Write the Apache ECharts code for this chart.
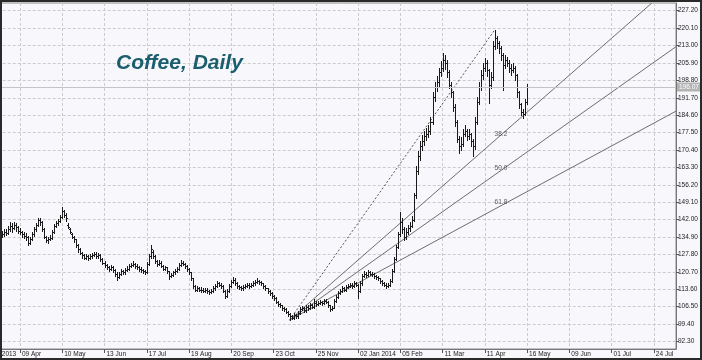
<!DOCTYPE html>
<html><head><meta charset="utf-8">
<script src="https://cdn.jsdelivr.net/npm/echarts@6/dist/echarts.min.js"></script>
<style>html,body{margin:0;padding:0;background:#fff}#c{width:702px;height:360px}</style>
</head><body><div id="c"></div>
<script>
// ---- data ----
const tickLabels = ['06 Mar 2013','09 Apr','10 May','13 Jun','17 Jul','19 Aug','20 Sep','23 Oct','25 Nov','02 Jan 2014','05 Feb','11 Mar','11 Apr','16 May','09 Jun','01 Jul','24 Jul'];
const barsPerLabel = 21;
const slotCount = 348;
const firstBarSlot = 11;
const yTicks = [92.3,99.4,106.5,113.6,120.7,127.8,134.9,142.0,149.1,156.2,163.3,170.4,177.5,184.6,191.7,198.8,205.9,213.0,220.1,227.2];
const yMin = 89.24, yMax = 230.34;
const fibLevels = [38.2, 50.0, 61.8];
const title = 'Coffee, Daily';
// daily bars [open, high, low, close]
const ohlc = [
[137.0,138.0,135.5,136.5],[136.5,137.5,135.0,136.0],[136.0,138.0,135.5,137.0],[137.0,138.0,135.8,136.5],[136.5,139.5,136.0,138.0],
[138.0,141.0,137.5,139.5],[139.5,140.5,137.0,138.5],[138.5,141.2,138.0,140.0],[140.0,140.8,137.5,139.0],[139.0,139.5,136.5,137.5],
[137.5,138.5,136.0,137.0],[137.0,137.5,135.0,136.0],[136.0,137.0,134.5,135.5],[135.5,136.5,133.8,135.0],[135.0,135.3,131.7,132.5],
[132.5,134.8,132.0,134.0],[134.0,136.8,133.5,136.0],[136.0,138.8,135.5,138.0],[138.0,140.8,137.5,140.0],[140.0,142.6,139.5,142.0],
[142.0,142.5,140.0,141.0],[141.0,141.5,137.5,138.0],[138.0,138.5,134.5,135.0],[135.0,135.5,132.8,133.5],[133.5,135.0,132.5,134.0],
[134.0,135.8,133.5,134.5],[134.5,137.8,134.0,137.0],[137.0,140.2,136.5,139.5],[139.5,141.5,139.0,140.5],[140.5,142.2,140.0,141.5],
[141.5,143.8,141.0,143.0],[143.0,147.0,142.5,145.5],[145.5,146.0,143.0,144.0],[144.0,144.5,141.5,142.5],[140.0,140.5,138.5,139.0],
[138.0,138.5,136.5,137.0],[136.0,136.5,134.5,135.0],[135.0,135.5,133.0,134.0],[134.0,134.2,131.0,131.5],[131.5,132.0,129.0,130.0],
[130.0,130.5,127.8,128.5],[128.5,129.0,126.5,127.5],[127.5,128.0,125.8,126.5],[126.5,127.8,126.0,127.0],[127.0,127.5,125.5,126.5],
[126.5,128.0,126.0,127.0],[127.0,128.5,126.5,127.5],[127.5,129.0,127.0,128.0],[128.0,128.6,126.3,127.0],[127.0,128.5,126.5,127.5],
[127.5,128.0,125.2,126.0],[126.0,126.5,123.8,124.5],[124.5,125.0,122.8,123.5],[123.5,124.0,121.8,122.5],[122.5,123.2,121.2,122.0],
[122.0,123.5,121.5,122.5],[122.5,123.0,120.8,121.5],[121.5,122.0,119.2,120.0],[120.0,120.5,117.4,118.5],[118.5,120.8,118.0,120.0],
[120.0,121.8,119.5,121.0],[121.0,121.5,119.8,120.5],[120.5,122.3,120.0,121.5],[121.5,123.0,121.0,122.0],[122.0,123.8,121.5,123.0],
[123.0,124.5,122.5,123.5],[123.5,125.0,123.0,124.0],[124.0,124.5,122.3,123.0],[123.0,123.8,121.8,122.5],[122.5,123.0,121.2,122.0],
[122.0,122.8,120.8,121.5],[121.5,122.0,120.2,121.0],[121.0,121.5,119.8,120.5],[120.5,124.8,120.2,124.0],[124.0,127.8,123.5,127.0],
[127.0,131.6,126.5,130.0],[129.0,129.5,126.5,127.0],[127.0,127.5,124.5,125.0],[125.0,125.5,123.2,124.0],[124.0,125.5,123.5,124.5],
[124.5,125.0,122.5,123.0],[123.0,123.5,121.3,122.0],[122.0,123.2,121.5,122.5],[122.5,122.8,120.3,121.0],[121.0,121.2,117.8,119.0],
[119.0,120.3,118.5,119.5],[119.5,121.2,119.0,120.5],[120.5,122.0,120.0,121.0],[121.0,122.8,120.5,122.0],[122.0,124.3,121.5,123.5],
[123.5,125.5,123.0,124.5],[124.5,125.2,123.3,124.0],[124.0,124.5,122.3,123.0],[123.0,123.5,121.2,122.0],[122.0,122.3,119.8,120.5],
[120.5,120.8,117.2,118.0],[118.0,118.3,114.2,115.0],[115.0,115.5,112.8,113.5],[113.5,114.8,113.0,114.0],[114.0,114.6,112.8,113.5],
[113.5,114.5,112.6,113.5],[113.5,114.0,112.3,113.0],[113.0,114.3,112.5,113.5],[113.5,114.0,112.2,113.0],[113.0,113.5,111.8,112.5],
[112.5,113.8,112.0,113.0],[113.0,114.8,112.5,114.0],[114.0,115.8,113.5,115.0],[115.0,116.8,114.6,116.0],[116.0,116.5,114.8,115.5],
[115.5,116.0,114.3,115.0],[115.0,115.2,112.5,113.0],[113.0,113.3,110.0,111.0],[111.0,113.8,110.5,113.0],[113.0,115.8,112.5,115.0],
[115.0,117.3,114.5,116.5],[116.5,118.5,116.0,117.5],[117.5,118.0,115.3,116.0],[116.0,116.5,114.3,115.0],[115.0,115.5,113.8,114.5],
[114.5,115.0,113.3,114.0],[114.0,115.3,113.5,114.5],[114.5,115.8,114.0,115.0],[115.0,116.3,114.5,115.5],[115.5,116.0,114.3,115.0],
[115.0,116.3,114.5,115.5],[115.5,116.8,115.0,116.0],[116.0,117.3,115.5,116.5],[116.5,118.0,116.0,117.0],[117.0,117.5,115.8,116.5],
[116.5,117.0,115.2,116.0],[116.0,116.3,114.3,115.0],[115.0,115.3,113.2,114.0],[114.0,114.3,112.2,113.0],[113.0,113.3,111.2,112.0],
[112.0,112.3,110.2,111.0],[111.0,111.3,109.2,110.0],[110.0,110.3,107.8,108.5],[108.5,109.0,106.8,107.5],[107.5,108.2,106.2,107.0],
[107.0,107.3,105.2,106.0],[106.0,106.5,104.8,105.5],[105.5,105.8,103.8,104.5],[104.5,104.8,102.8,103.5],[103.5,103.8,101.1,102.5],
[102.5,103.2,101.3,102.0],[102.0,103.8,101.5,103.0],[103.0,103.5,101.8,102.5],[102.5,104.8,102.0,104.0],[104.0,106.2,103.5,105.5],
[105.5,106.8,105.0,106.0],[106.0,106.5,104.3,105.0],[105.0,107.3,104.5,106.5],[106.5,107.0,105.3,106.0],[106.0,107.8,105.5,107.0],
[107.0,107.5,105.8,106.5],[106.5,109.5,106.0,108.0],[108.0,108.8,106.8,107.5],[107.5,108.8,107.0,108.0],[108.0,109.3,107.5,108.5],
[108.5,109.0,107.2,108.0],[108.0,109.8,107.5,109.0],[109.0,109.5,107.8,108.5],[108.5,108.8,106.3,107.0],[107.0,107.3,104.8,105.5],
[105.5,106.8,105.0,106.0],[106.0,109.8,105.8,109.0],[109.0,111.3,108.5,110.5],[110.5,112.8,110.0,112.0],[112.0,113.8,111.5,113.0],
[113.0,114.8,112.5,114.0],[114.0,114.5,112.8,113.5],[113.5,115.3,113.0,114.5],[114.5,115.8,114.0,115.0],[115.0,116.3,114.5,115.5],
[115.5,116.0,114.3,115.0],[115.0,116.8,114.5,116.0],[116.0,116.5,114.8,115.5],[115.5,115.8,110.0,113.0],[113.0,116.8,112.5,116.0],
[116.0,119.8,115.5,119.0],[119.0,121.0,118.5,120.0],[120.0,120.5,118.8,119.5],[119.5,121.5,119.0,120.5],[120.5,121.0,119.3,120.0],
[120.0,120.8,119.2,120.0],[120.0,120.3,118.3,119.0],[119.0,119.5,117.8,118.5],[118.5,119.0,117.3,118.0],[118.0,118.3,116.3,117.0],
[117.0,117.3,115.3,116.0],[116.0,116.5,114.8,115.5],[115.5,116.0,114.3,115.0],[115.0,116.3,114.5,115.5],[115.5,117.8,115.0,117.0],
[117.0,121.8,116.5,121.0],[121.0,126.8,120.5,126.0],[126.0,131.8,125.5,131.0],[131.0,137.0,130.5,136.0],[136.0,145.0,135.5,141.0],
[141.0,142.5,136.5,138.0],[138.0,139.0,133.5,135.0],[135.0,138.5,134.0,137.0],[137.0,140.0,136.0,138.5],[138.5,141.0,137.5,139.5],
[139.5,143.5,139.0,142.0],[142.0,153.0,141.5,152.0],[152.0,164.0,151.0,162.0],[162.0,170.0,160.5,168.0],[168.0,174.0,166.5,172.0],
[172.0,176.5,170.5,174.0],[174.0,178.0,172.5,176.0],[176.0,179.5,174.5,177.0],[177.0,180.5,175.5,178.0],[178.0,184.0,177.0,182.0],
[182.0,194.0,181.0,192.0],[192.0,198.0,190.5,196.0],[196.0,200.5,194.5,198.0],[198.0,204.0,196.5,202.0],[202.0,206.5,200.5,204.0],
[204.0,210.0,202.5,207.0],[207.0,209.0,203.5,206.0],[206.0,207.0,200.0,202.0],[202.0,203.0,195.5,197.0],[197.0,198.0,192.0,194.0],
[194.0,194.5,186.5,188.0],[188.0,189.0,180.0,182.0],[182.0,182.5,173.5,175.0],[175.0,176.0,169.0,172.0],[172.0,175.5,170.5,173.0],
[173.0,179.0,172.0,177.0],[177.0,180.5,176.0,178.0],[178.0,179.0,174.5,176.0],[176.0,179.0,175.0,177.0],[177.0,177.5,172.0,174.0],
[174.0,175.0,168.0,172.0],[172.0,184.0,171.0,182.0],[182.0,192.0,181.0,190.0],[190.0,198.0,189.0,196.0],[196.0,203.0,195.0,201.0],
[201.0,206.0,199.5,204.0],[204.0,208.0,202.5,206.0],[206.0,207.0,200.5,203.0],[203.0,203.5,189.5,197.0],[197.0,202.0,195.5,200.0],
[200.0,215.0,199.0,213.0],[213.0,219.5,211.5,216.0],[216.0,217.0,212.0,214.0],[214.0,215.0,210.0,212.0],[212.0,213.0,207.0,209.0],
[209.0,210.0,195.0,205.0],[205.0,209.0,204.0,207.0],[207.0,208.5,204.5,206.0],[206.0,207.0,202.0,204.0],[204.0,205.5,201.0,203.0],
[203.0,206.0,202.0,204.0],[204.0,204.5,199.0,201.0],[201.0,201.5,192.0,194.0],[194.0,194.5,187.5,189.0],[189.0,189.5,184.5,186.0],
[186.0,187.0,183.5,185.0],[185.0,191.0,184.5,190.0],[190.0,197.5,189.0,196.07]
];

// ---- derived ----
const slots = Array.from({length: slotCount}, (_, i) => String(i));
const barData = ohlc.map((b, k) => [firstBarSlot + k, b[0], b[1], b[2], b[3]]);
let lowSlot = 0, lowVal = Infinity, highSlot = 0, highVal = -Infinity;
barData.forEach(d => {
  if (d[3] < lowVal) { lowVal = d[3]; lowSlot = d[0]; }
  if (d[2] > highVal) { highVal = d[2]; highSlot = d[0]; }
});
const lastClose = ohlc[ohlc.length - 1][3];
const fanColor = '#6e6e6e';
const fanSeries = [];
const fanLabels = [];
fibLevels.forEach(lv => {
  const p = highVal - lv / 100 * (highVal - lowVal);
  const slope = (p - lowVal) / (highSlot - lowSlot);
  let endSlot = slotCount - 1;
  let endVal = lowVal + slope * (endSlot - lowSlot);
  if (endVal > yMax) { endSlot = lowSlot + (yMax - lowVal) / slope; endVal = yMax; }
  fanSeries.push({
    type: 'line', silent: true, symbol: 'none', animation: false, clip: true, z: 3,
    data: [[lowSlot, lowVal], [endSlot, endVal]],
    lineStyle: {color: fanColor, width: 1}
  });
  fanLabels.push({value: [highSlot + 3, p], name: lv.toFixed(1)});
});
const isTick = i => i % barsPerLabel === 0;

const chart = echarts.init(document.getElementById('c'), null, {renderer: 'canvas'});
const txtFont = "'Liberation Sans', Arial, sans-serif";
chart.setOption({
  animation: false,
  backgroundColor: '#f7f7fc',
  title: {
    text: title, left: 116, top: 53, padding: 0,
    textStyle: {fontFamily: "'Liberation Sans', Arial, sans-serif", fontSize: 21, fontStyle: 'italic', fontWeight: 'bold', color: '#1b5e6e'}
  },
  grid: {left: -22.27, right: 26, top: 3, bottom: 11, show: true, borderColor: '#8a8a8a', borderWidth: 1, backgroundColor: '#f7f7fc', containLabel: false, outerBoundsMode: 'none'},
  xAxis: {
    type: 'category', data: slots, boundaryGap: false,
    axisLine: {show: true, lineStyle: {color: '#777', width: 1}},
    axisTick: {show: true, interval: isTick, length: 4, lineStyle: {color: '#555'}},
    axisLabel: {show: true, interval: isTick, formatter: (v, idx) => {const j = idx / barsPerLabel; return Number.isInteger(j) && tickLabels[j] ? tickLabels[j] : '';},
      align: 'left', padding: [0, 0, 0, 2], margin: 2, fontSize: 6.5, color: '#222', fontFamily: txtFont},
    splitLine: {show: true, interval: isTick, lineStyle: {color: '#cccccc', width: 1, type: [3, 2]}}
  },
  yAxis: {
    type: 'value', position: 'right', min: yMin, max: yMax, scale: true,
    axisLine: {show: true, lineStyle: {color: '#777', width: 1}},
    axisTick: {show: true, customValues: yTicks, length: 3, lineStyle: {color: '#555'}},
    axisLabel: {show: true, customValues: yTicks, formatter: v => Number(v).toFixed(2), margin: 2, fontSize: 6.5, color: '#222', fontFamily: txtFont},
    splitLine: {show: true, lineStyle: {color: '#cccccc', width: 1, type: [3, 2]}}
  },
  series: [
    {
      type: 'custom', name: 'Coffee', clip: true, z: 4,
      data: barData,
      encode: {x: 0, y: [1, 2, 3, 4]},
      renderItem: (params, api) => {
        const s = api.value(0);
        const o = api.coord([s, api.value(1)]);
        const h = api.coord([s, api.value(2)]);
        const l = api.coord([s, api.value(3)]);
        const c = api.coord([s, api.value(4)]);
        const X = Math.round(o[0]);
        const st = {stroke: '#1a1a1a', lineWidth: 1};
        return {type: 'group', children: [
          {type: 'line', shape: {x1: X + 0.5, y1: Math.round(h[1]), x2: X + 0.5, y2: Math.round(l[1]) + 1}, style: st},
          {type: 'line', shape: {x1: X - 1, y1: Math.round(o[1]) + 0.5, x2: X, y2: Math.round(o[1]) + 0.5}, style: st},
          {type: 'line', shape: {x1: X + 1, y1: Math.round(c[1]) + 0.5, x2: X + 2, y2: Math.round(c[1]) + 0.5}, style: st}
        ]};
      },
      markLine: {
        silent: true, symbol: 'none', animation: false,
        lineStyle: {color: '#c4c4c4', type: 'solid', width: 1},
        label: {show: true, position: 'end', distance: 1, formatter: lastClose.toFixed(2), backgroundColor: '#b3b3b3', color: '#ffffff', fontSize: 6.5, fontFamily: txtFont, padding: [1, 2, 1, 2]},
        data: [{yAxis: lastClose}]
      }
    },
    {
      type: 'line', silent: true, symbol: 'none', animation: false, clip: true, z: 3,
      data: [[lowSlot, lowVal], [highSlot, highVal]],
      lineStyle: {color: '#555', width: 1, type: [2, 2]}
    },
    ...fanSeries,
    {
      type: 'scatter', silent: true, symbolSize: 0, z: 5,
      data: fanLabels,
      label: {show: true, position: 'top', distance: 3, formatter: p => p.name, fontSize: 6.5, color: '#333', fontFamily: txtFont}
    }
  ],
  graphic: [{
    type: 'rect', silent: true, z: 100,
    shape: {x: 1, y: 1, width: 700, height: 358},
    style: {fill: 'none', stroke: '#2a2a2a', lineWidth: 2}
  }]
});
</script></body></html>
